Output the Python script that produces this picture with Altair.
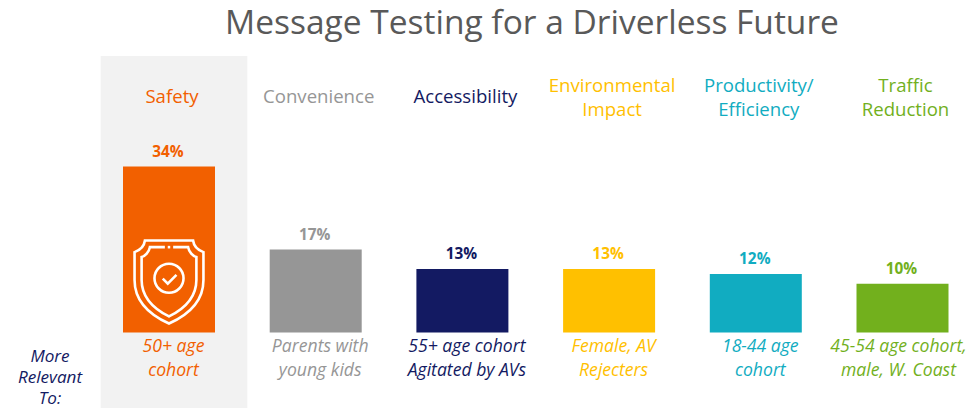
import altair as alt

categories = ["Safety", "Convenience", "Accessibility", "Environmental", "Productivity", "Traffic"]
headers = ["Safety", "Convenience", "Accessibility", "Environmental\nImpact", "Productivity/\nEfficiency", "Traffic\nReduction"]
values = [34, 17, 13, 13, 12, 10]
audiences = ["50+ age\ncohort", "Parents with\nyoung kids", "55+ age cohort\nAgitated by AVs", "Female, AV\nRejecters", "18-44 age\ncohort", "45-54 age cohort,\nmale, W. Coast"]
bar_colors = ["#F26000", "#969696", "#131A62", "#FFC000", "#11ACC1", "#72B01D"]

FONT = "Open Sans"
rows = [
    {"cat": c, "header": h, "value": v, "label": f"{v}%", "aud": a}
    for c, h, v, a in zip(categories, headers, values, audiences)
]
data = alt.Data(values=rows)
one_line = alt.Data(values=rows[:3])
two_line = alt.Data(values=rows[3:])

x = alt.X("cat:N", axis=None, sort=categories,
          scale=alt.Scale(type="point", padding=0, domain=categories, range=[161, 894.5]))
y = alt.Y("value:Q", axis=None, scale=alt.Scale(domain=[0, 66.5], range=[324.5, 0]))
color = alt.Color("cat:N", legend=None, scale=alt.Scale(domain=categories, range=bar_colors))

band = alt.Chart(alt.Data(values=[rows[0]])).mark_bar(size=146.7, color="#F2F2F2", xOffset=5).encode(
    x=x, y=alt.value(48), y2=alt.value(402))
bars = alt.Chart(data).mark_bar(size=92).encode(x=x, y=y, y2=alt.datum(0), color=color)
head_style = dict(font=FONT, fontSize=18.6, lineBreak="\n", lineHeight=24, dx=3, baseline="middle")
head1 = alt.Chart(one_line).mark_text(**head_style).encode(
    x=x, y=alt.value(89), text="header:N", color=color)
head2 = alt.Chart(two_line).mark_text(**head_style).encode(
    x=x, y=alt.value(78), text="header:N", color=color)
val = alt.Chart(data).mark_text(font=FONT, fontSize=15.4, fontWeight="bold", dy=-7, dx=-1, baseline="bottom").encode(
    x=x, y=y, text="label:N", color=color)
sub_style = dict(font=FONT, fontSize=17.6, fontStyle="italic", lineBreak="\n", lineHeight=24, baseline="middle")
sub = alt.Chart(alt.Data(values=rows[:5])).mark_text(dx=4.5, **sub_style).encode(
    x=x, y=alt.value(339), text="aud:N", color=color)
sub_last = alt.Chart(alt.Data(values=rows[5:])).mark_text(dx=-4, **sub_style).encode(
    x=x, y=alt.value(339), text="aud:N", color=color)
side = alt.Chart(alt.Data(values=[{"t": "More\nRelevant\nTo:"}])).mark_text(
    font=FONT, fontSize=17.1, fontStyle="italic", lineBreak="\n", lineHeight=21, baseline="middle", color="#131A62").encode(
    x=alt.value(42), y=alt.value(349), text="t:N")

OUTER = "M-0.58,-1 L0.58,-1 C0.6,-0.85 0.72,-0.76 0.83,-0.72 L0.83,-0.05 C0.83,0.5 0.4,0.82 0,1 C-0.4,0.82 -0.83,0.5 -0.83,-0.05 L-0.83,-0.72 C-0.72,-0.76 -0.6,-0.85 -0.58,-1 Z"
INNER = "M0.1,-0.84 L0.46,-0.84 C0.48,-0.72 0.58,-0.62 0.66,-0.6 L0.66,-0.05 C0.66,0.4 0.3,0.68 0,0.83 C-0.3,0.68 -0.66,0.4 -0.66,-0.05 L-0.66,-0.6 C-0.58,-0.62 -0.48,-0.72 -0.46,-0.84 L-0.1,-0.84"
RING = "M0.35,-0.09 A0.35,0.35 0 1,1 -0.35,-0.09 A0.35,0.35 0 1,1 0.35,-0.09 Z"
CHECK = "M-0.15,-0.08 L-0.03,0.04 L0.18,-0.17"
DOT = "M-0.03,-0.84 L0.03,-0.84"
icons = alt.layer(*[
    alt.Chart(alt.Data(values=[{"cat": "Safety"}])).mark_point(
        shape=p, size=6889, filled=False, stroke="white", strokeWidth=2.6, opacity=1).encode(x=x, y=alt.value(274))
    for p in [OUTER, INNER, RING, CHECK, DOT]
])

chart = alt.layer(band, bars, icons, head1, head2, val, sub, sub_last, side).properties(
    width=958, height=400, padding=0, autosize=alt.AutoSizeParams(type="none"),
    title=alt.TitleParams("Message Testing for a Driverless Future", font=FONT, fontSize=33.5, fontWeight="normal",
                          color="#595959", anchor="middle", dx=45, offset=-49, baseline="middle"),
).configure_view(stroke=None)
chart.save("out.html", embed_options={"renderer": "svg", "actions": False})
